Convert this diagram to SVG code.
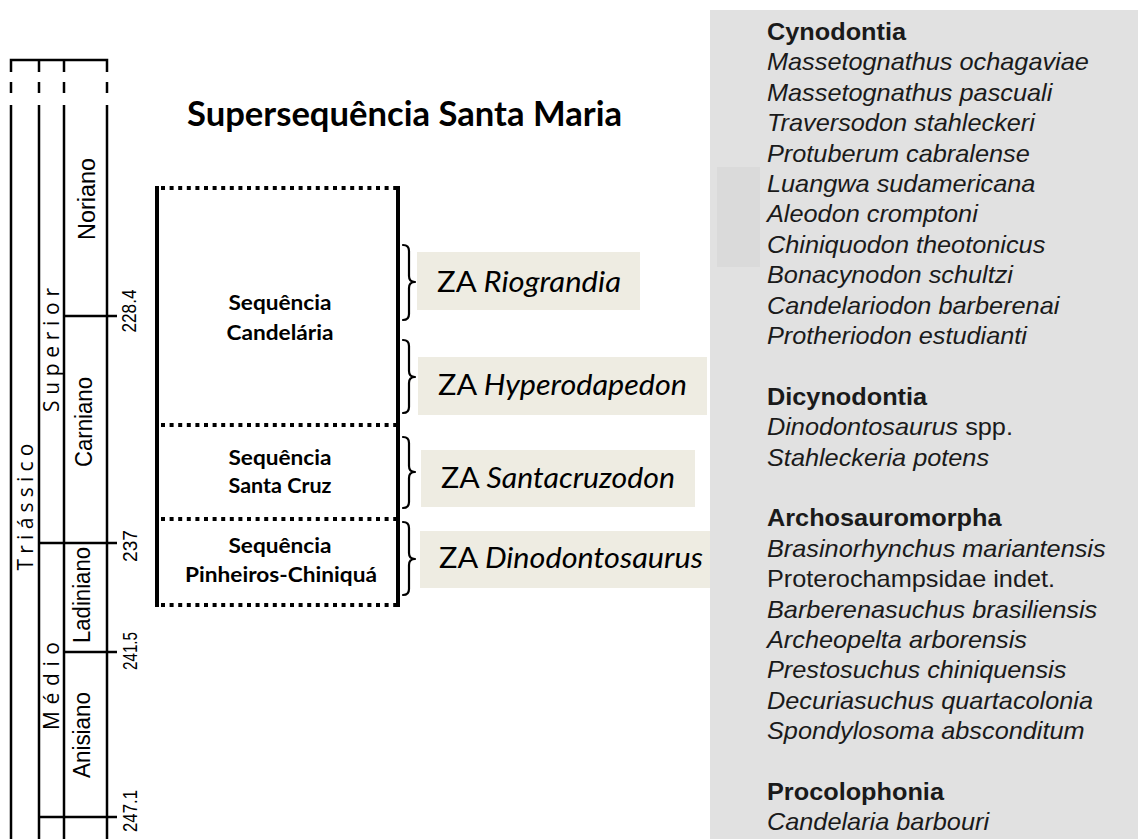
<svg xmlns="http://www.w3.org/2000/svg" width="1138" height="839" viewBox="0 0 1138 839">
<defs>
<style>
.ln{stroke:#000;stroke-width:2.5;fill:none}
.stage{font-family:"Liberation Sans",Arial,sans-serif;font-size:23px;fill:#000}
.num{font-family:"Liberation Sans",Arial,sans-serif;font-size:21px;fill:#000}
.epoch{font-family:"Open Sans",Lato,sans-serif;font-size:21px;fill:#000}
.title{font-family:Lato,"Open Sans",sans-serif;font-size:34px;font-weight:bold;fill:#000}
.seq{font-family:Lato,"Open Sans",sans-serif;font-size:21px;font-weight:bold;fill:#000}
.za{font-family:Lato,"Open Sans",sans-serif;font-size:29px;fill:#000}
.zabox{fill:#eeece2}
.dot{stroke:#000;stroke-width:4;stroke-dasharray:4 4.6;fill:none}
.bar{stroke:#000;stroke-width:4;fill:none}
.brace{stroke:#000;stroke-width:2.2;fill:none;stroke-linecap:round;stroke-linejoin:round}
.tx{font-family:"Liberation Sans",Arial,sans-serif;font-size:23px;fill:#1a1a1a}
.h{font-weight:bold}
.i{font-style:italic}
</style>
</defs>
<rect x="0" y="0" width="1138" height="839" fill="#fff"/>

<g id="timescale">
<path class="ln" d="M11 72V60H107V72M39 60V72M64 60V72"/>
<path class="ln" d="M11 82V93M39 82V93M64 82V93M107 82V93"/>
<path class="ln" d="M11 105V839M39 105V839M64 105V839M107 105V839"/>
<path class="ln" d="M64 316H117M39 543H117M64 652H117M39 817H117"/>
<text class="epoch" transform="translate(33 507) rotate(-90)" text-anchor="middle" textLength="127" lengthAdjust="spacing">Triássico</text>
<text class="epoch" transform="translate(59 350) rotate(-90)" text-anchor="middle" textLength="124" lengthAdjust="spacing">Superior</text>
<text class="epoch" transform="translate(59 686) rotate(-90)" text-anchor="middle" textLength="88" lengthAdjust="spacing">Médio</text>
<text class="stage" transform="translate(95 199) rotate(-90)" text-anchor="middle" textLength="82" lengthAdjust="spacingAndGlyphs">Noriano</text>
<text class="stage" transform="translate(92 422) rotate(-90)" text-anchor="middle" textLength="90" lengthAdjust="spacingAndGlyphs">Carniano</text>
<text class="stage" transform="translate(90 595) rotate(-90)" text-anchor="middle" textLength="96" lengthAdjust="spacingAndGlyphs">Ladiniano</text>
<text class="stage" transform="translate(90 735) rotate(-90)" text-anchor="middle" textLength="86" lengthAdjust="spacingAndGlyphs">Anisiano</text>
<text class="num" transform="translate(136 311) rotate(-90)" text-anchor="middle" textLength="43" lengthAdjust="spacingAndGlyphs">228.4</text>
<text class="num" transform="translate(137 546) rotate(-90)" text-anchor="middle" textLength="32" lengthAdjust="spacingAndGlyphs">237</text>
<text class="num" transform="translate(137 651) rotate(-90)" text-anchor="middle" textLength="38" lengthAdjust="spacingAndGlyphs">241.5</text>
<text class="num" transform="translate(137 811) rotate(-90)" text-anchor="middle" textLength="42" lengthAdjust="spacingAndGlyphs">247.1</text>
</g>

<g id="title">
<text class="title" x="187" y="126" textLength="435" lengthAdjust="spacingAndGlyphs">Supersequência Santa Maria</text>
</g>

<g id="supersequence-frame">
<path class="bar" d="M157 186V607M398 186V607"/>
<path class="dot" d="M161 188H396M161 425H396M161 519H396M161 605H396"/>
</g>

<g id="seq-candelaria">
<text class="seq" x="280" y="310" text-anchor="middle" textLength="103" lengthAdjust="spacingAndGlyphs">Sequência</text>
<text class="seq" x="280" y="340" text-anchor="middle" textLength="107" lengthAdjust="spacingAndGlyphs">Candelária</text>
</g>
<g id="seq-santacruz">
<text class="seq" x="280" y="465" text-anchor="middle" textLength="103" lengthAdjust="spacingAndGlyphs">Sequência</text>
<text class="seq" x="280" y="493" text-anchor="middle" textLength="103" lengthAdjust="spacingAndGlyphs">Santa Cruz</text>
</g>
<g id="seq-pinheiros">
<text class="seq" x="280" y="553" text-anchor="middle" textLength="103" lengthAdjust="spacingAndGlyphs">Sequência</text>
<text class="seq" x="281" y="582" text-anchor="middle" textLength="192" lengthAdjust="spacingAndGlyphs">Pinheiros-Chiniquá</text>
</g>

<g id="connectors">
<path class="brace" d="M403 245Q409 245 409 251V276Q409 282 415 282Q409 282 409 288V314Q409 320 403 320"/>
<path class="brace" d="M403 340Q409 340 409 346V371Q409 377 415 377Q409 377 409 383V407Q409 413 403 413"/>
<path class="brace" d="M403 437Q409 437 409 443V466Q409 472 415 472Q409 472 409 478V502Q409 508 403 508"/>
<path class="brace" d="M403 522Q409 522 409 528V553Q409 559 415 559Q409 559 409 565V589Q409 595 403 595"/>
</g>

<g id="za-riograndia">
<rect class="zabox" x="417" y="252" width="223" height="58"/>
<text class="za" x="437" y="292" textLength="184" lengthAdjust="spacingAndGlyphs">ZA <tspan class="i">Riograndia</tspan></text>
</g>
<g id="za-hyperodapedon">
<rect class="zabox" x="418" y="357" width="289" height="58"/>
<text class="za" x="438" y="395" textLength="249" lengthAdjust="spacingAndGlyphs">ZA <tspan class="i">Hyperodapedon</tspan></text>
</g>
<g id="za-santacruzodon">
<rect class="zabox" x="421" y="450" width="274" height="57"/>
<text class="za" x="441" y="488" textLength="234" lengthAdjust="spacingAndGlyphs">ZA <tspan class="i">Santacruzodon</tspan></text>
</g>
<g id="za-dinodontosaurus">
<rect class="zabox" x="420" y="531" width="295" height="57"/>
<text class="za" x="439" y="568" textLength="264" lengthAdjust="spacingAndGlyphs">ZA <tspan class="i">Dinodontosaurus</tspan></text>
</g>

<g id="taxa-panel">
<rect x="710" y="10" width="428" height="829" fill="#e1e1e1"/>
<rect x="717" y="167" width="43" height="100" fill="#dadada"/>
<g transform="translate(767 0) scale(1.1 1)">
<text class="tx h" x="0" y="40">Cynodontia</text>
<text class="tx i" x="0" y="70.4">Massetognathus ochagaviae</text>
<text class="tx i" x="0" y="100.8">Massetognathus pascuali</text>
<text class="tx i" x="0" y="131.2">Traversodon stahleckeri</text>
<text class="tx i" x="0" y="161.6">Protuberum cabralense</text>
<text class="tx i" x="0" y="192">Luangwa sudamericana</text>
<text class="tx i" x="0" y="222.4">Aleodon cromptoni</text>
<text class="tx i" x="0" y="252.8">Chiniquodon theotonicus</text>
<text class="tx i" x="0" y="283.2">Bonacynodon schultzi</text>
<text class="tx i" x="0" y="313.6">Candelariodon barberenai</text>
<text class="tx i" x="0" y="344">Protheriodon estudianti</text>
<text class="tx h" x="0" y="404.8">Dicynodontia</text>
<text class="tx" x="0" y="435.2"><tspan class="i">Dinodontosaurus</tspan> spp.</text>
<text class="tx i" x="0" y="465.6">Stahleckeria potens</text>
<text class="tx h" x="0" y="526.4">Archosauromorpha</text>
<text class="tx i" x="0" y="556.8">Brasinorhynchus mariantensis</text>
<text class="tx" x="0" y="587.2">Proterochampsidae indet.</text>
<text class="tx i" x="0" y="617.6">Barberenasuchus brasiliensis</text>
<text class="tx i" x="0" y="648">Archeopelta arborensis</text>
<text class="tx i" x="0" y="678.4">Prestosuchus chiniquensis</text>
<text class="tx i" x="0" y="708.8">Decuriasuchus quartacolonia</text>
<text class="tx i" x="0" y="739.2">Spondylosoma absconditum</text>
<text class="tx h" x="0" y="800">Procolophonia</text>
<text class="tx i" x="0" y="830.4">Candelaria barbouri</text>
</g>
</g>
</svg>
